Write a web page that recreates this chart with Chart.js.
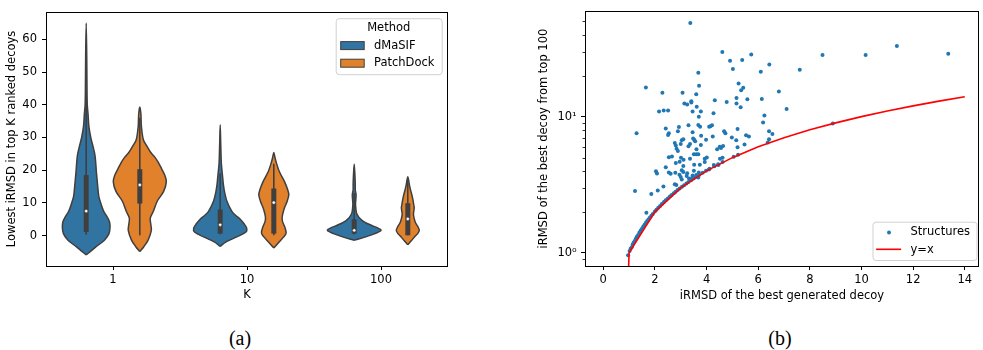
<!DOCTYPE html>
<html><head><meta charset="utf-8">
<script src="https://cdn.jsdelivr.net/npm/chart.js@4.4.1/dist/chart.umd.min.js"></script>
<style>
html,body{margin:0;padding:0;background:#fff}
body{width:983px;height:350px;position:relative;overflow:hidden}
canvas{position:absolute;top:0}
#ca{left:0}
#cb{left:500px}
.cap{position:absolute;top:326px;width:60px;text-align:center;font-family:"Liberation Serif","Times New Roman",serif;font-size:20px;color:#000;line-height:24px}
</style></head>
<body>
<canvas id="ca" width="470" height="303"></canvas>
<canvas id="cb" width="483" height="303"></canvas>
<div class="cap" style="left:210px">(a)</div>
<div class="cap" style="left:750px">(b)</div>
<script>
// ================= Panel (a): violin plot =================
const kLabels = ['1', '10', '100'];
const methods = ['dMaSIF', 'PatchDock'];
const legendTitleA = 'Method';
const yTicksA = [0, 10, 20, 30, 40, 50, 60];

// violin outlines: iRMSD levels (bottom -> top) and relative density (% of the widest violin)
const dmasifK1Y = [-5.9,-4.9,-3.4,-1.4,0.6,2.6,4.2,5.6,7.5,9.5,12,15,19.5,24.4,27.4,30,33.4,37,40,45,55,65];
const dmasifK1D = [0,15,37,68,85,89,87,79,65,56,47,43,38,33,25,17,10,7,4,3,2,0];
const patchK1Y  = [-4.9,-3.4,-1.4,1.6,3.5,5.3,7.5,10.5,13.5,16.5,18.5,20.5,22.4,24,25.4,27.4,29.4,33.4,37.3,39.3];
const patchK1D  = [0,15,31,43,41,39,51,65,89,99,93,81,69,56,41,26,13,6,4,0];
const dmasifK10Y = [-3.3,-1.9,-0.4,1.1,2.3,3.6,5.1,6.3,7.5,10.5,13,15.5,18,20.4,22.4,28,33.9];
const dmasifK10D = [0,22,62,96,99,89,74,56,43,25,17,12,9,6,4,2,0];
const patchK10Y  = [-3.8,-2.4,-0.4,0.8,2.6,4.2,5.3,6.5,8.5,10.5,12.5,14,16.5,19.5,22.4,24,25.4];
const patchK10D  = [0,15,37,46,41,33,31,33,40,50,56,52,40,21,9,4,0];
const dmasifK100Y = [-1.4,-0.4,0.6,1.6,2.3,3.1,4.6,6.6,9.5,11,12.5,14,15.5,18,21.9];
const dmasifK100D = [0,43,77,100,89,65,30,10,5,6,7,4,4,3,0];
const patchK100Y  = [-2.8,-1.6,-0.4,0.6,1.6,2.8,4.1,5.5,6.6,8.5,9.5,11,12.5,14,15.5,17,18];
const patchK100D  = [0,13,25,37,43,37,28,23,21,24,22,19,15,10,6,3,0];

// inner box statistics, one value per K (1, 10, 100)
const dmasifQ1 = [1.1, 0.6, 0.6];
const dmasifQ3 = [18.5, 8.0, 5.0];
const dmasifMedian = [7.5, 3.3, 1.6];
const dmasifWhiskerLo = [0.3, 0.4, 0.3];
const dmasifWhiskerHi = [44, 19, 13];
const patchQ1 = [9.8, 0.6, 0.1];
const patchQ3 = [20.3, 14.4, 9.9];
const patchMedian = [15.5, 10.1, 5.1];
const patchWhiskerLo = [0.1, 0.1, 0.1];
const patchWhiskerHi = [36, 22, 17];

// ================= Panel (b): scatter =================
const structX = [3.37,4.61,4.91,5.38,5.73,5.02,6.43,6.10,7.61,8.49,
 10.16,11.37,13.36,3.68,3.71,1.65,2.29,3.07,3.60,5.24,
 5.42,5.34,6.80,4.32,4.78,5.16,5.58,6.14,3.14,3.41,
 3.41,3.25,3.62,5.16,5.32,7.10,2.16,2.34,2.51,3.46,
 3.78,3.70,4.27,6.24,6.19,8.89,1.29,2.42,2.54,2.51,
 2.93,2.89,3.30,3.46,3.75,3.68,4.10,4.21,4.15,4.68,
 4.73,5.20,6.42,6.55,6.42,6.37,5.53,5.64,4.98,5.15,
 5.20,5.47,4.24,3.98,3.79,3.52,3.48,3.56,3.78,3.61,
 3.36,3.30,3.04,3.10,2.77,2.81,2.84,2.89,3.00,3.11,
 3.01,3.51,3.60,3.68,3.93,4.01,4.56,4.51,4.41,4.64,
 4.52,4.62,2.54,2.66,3.36,3.52,3.74,3.93,4.09,4.28,
 4.46,2.96,2.81,3.10,2.42,2.04,2.08,2.54,2.61,2.79,
 3.04,3.10,3.25,2.95,3.00,3.04,3.23,3.46,3.51,3.60,
 3.70,3.68,3.32,3.41,3.51,2.33,2.77,2.83,2.11,1.86,
 1.23,1.67,0.96,
 1.02,1.06,1.1,1.14,1.18,1.22,1.26,1.3,1.35,1.4,
 1.45,1.5,1.55,1.6,1.65,1.7,1.75,1.8,1.86,1.92,
 2.0,2.06,2.13,2.2,2.27,2.35,2.42,2.5,2.58,2.65,
 2.73,2.8,2.88,2.96,3.05,3.13,3.22,3.3,3.4,3.5,
 3.6,3.72,3.85,3.98,4.12,4.3,4.45,4.62,5.05,5.22];
const structY = [48.8,29.8,25.7,26.1,28.6,22.4,24.2,21.4,22.1,28.4,
 28.4,33.0,29.0,21.0,16.9,16.4,15.0,15.0,14.6,17.5,
 16.3,15.6,15.3,13.2,12.8,13.7,13.4,13.5,12.5,12.7,
 13.0,12.3,11.8,12.5,11.7,11.4,10.9,11.1,11.1,10.9,
 10.9,10.0,10.6,10.2,9.06,8.9,7.55,8.2,7.55,7.34,
 8.38,7.80,8.66,7.67,8.43,8.7,8.43,8.66,8.5,7.8,
 7.55,8.11,7.8,7.46,6.83,6.47,7.30,7.14,7.03,6.72,
 5.95,6.25,7.14,6.76,7.25,6.76,6.9,6.6,6.19,5.76,
 6.29,6.05,6.7,6.83,6.40,6.13,5.8,5.6,6.3,4.83,
 4.99,5.30,5.30,5.30,4.91,5.02,5.89,6.0,5.76,6.09,
 4.91,4.99,5.04,5.1,4.91,4.44,4.44,4.64,4.09,4.42,
 4.42,4.67,4.57,4.34,4.25,3.98,3.83,3.89,3.80,3.87,
 4.04,3.93,3.84,3.74,3.60,3.46,3.66,3.70,4.0,3.72,
 3.89,3.58,3.52,3.52,3.58,3.07,3.19,3.15,2.87,2.70,
 2.84,1.97,0.96,
 1.03,1.07,1.1,1.15,1.19,1.22,1.27,1.31,1.35,1.41,
 1.46,1.5,1.56,1.61,1.66,1.71,1.76,1.81,1.87,1.93,
 2.01,2.07,2.14,2.21,2.28,2.36,2.43,2.51,2.59,2.66,
 2.74,2.81,2.89,2.97,3.06,3.14,3.23,3.31,3.41,3.51,
 3.62,3.74,3.87,4.0,4.14,4.32,4.47,4.64,5.08,5.25];
const refX = [0,1,2,3,4,5,6,7,8,9,10,11,12,13,14];
const refY = [0,1,2,3,4,5,6,7,8,9,10,11,12,13,14];
const xTicksB = [0,2,4,6,8,10,12,14];
const yMajorB = [1, 10];
const yMinorB = [0.9,2,3,4,5,6,7,8,9,20,30,40,50];
const yMajorLabels = ['10\u2070', '10\u00b9'];
const seriesB = ['Structures', 'y=x'];

// ================= styling & construction =================
Chart.defaults.font.family = "'DejaVu Sans', sans-serif";
Chart.defaults.font.size = 11.5;
Chart.defaults.color = '#000';

const methodColors = ['#3274a1', '#e1812c'];
const GRAY = '#3f3f3f';
const HALF = 0.2;

const framePlugin = {
  id: 'frame',
  afterDraw(chart) {
    const {ctx, chartArea: a} = chart;
    ctx.save();
    ctx.strokeStyle = '#000';
    ctx.lineWidth = 1;
    ctx.strokeRect(Math.round(a.left) + 0.5, Math.round(a.top) + 0.5,
                   Math.round(a.right) - Math.round(a.left) - 1, Math.round(a.bottom) - Math.round(a.top));
    ctx.restore();
  }
};

function roundBox(ctx, x, y, w, h, r) {
  ctx.beginPath();
  ctx.moveTo(x + r, y);
  ctx.lineTo(x + w - r, y); ctx.arcTo(x + w, y, x + w, y + r, r);
  ctx.lineTo(x + w, y + h - r); ctx.arcTo(x + w, y + h, x + w - r, y + h, r);
  ctx.lineTo(x + r, y + h); ctx.arcTo(x, y + h, x, y + h - r, r);
  ctx.lineTo(x, y + r); ctx.arcTo(x, y, x + r, y, r);
  ctx.closePath();
  ctx.fillStyle = 'rgba(255,255,255,0.8)';
  ctx.fill();
  ctx.strokeStyle = '#d0d0d0';
  ctx.lineWidth = 1;
  ctx.stroke();
}

const legendAPlugin = {
  id: 'legendA',
  afterDraw(chart) {
    const {ctx, chartArea: a} = chart;
    const w = 106, h = 56;
    const x0 = a.right - 6.3 - w, y0 = a.top + 6.3;
    ctx.save();
    roundBox(ctx, x0 + 0.5, y0 + 0.5, w, h, 3);
    ctx.font = "11.5px 'DejaVu Sans'";
    ctx.fillStyle = '#000';
    ctx.textBaseline = 'middle';
    ctx.textAlign = 'center';
    ctx.fillText(legendTitleA, x0 + w / 2, y0 + 9.7);
    methods.forEach((m, i) => {
      const cy = y0 + 27.4 + i * 17.6;
      ctx.fillStyle = methodColors[i];
      ctx.fillRect(x0 + 5, cy - 4, 23.5, 8);
      ctx.strokeStyle = GRAY;
      ctx.lineWidth = 1;
      ctx.strokeRect(x0 + 5, cy - 4, 23.5, 8);
      ctx.fillStyle = '#000';
      ctx.textAlign = 'left';
      ctx.fillText(m, x0 + 38.3, cy);
    });
    ctx.restore();
  }
};

const violinSets = [
  {k: 0, m: 0, y: dmasifK1Y, d: dmasifK1D},
  {k: 0, m: 1, y: patchK1Y, d: patchK1D},
  {k: 1, m: 0, y: dmasifK10Y, d: dmasifK10D},
  {k: 1, m: 1, y: patchK10Y, d: patchK10D},
  {k: 2, m: 0, y: dmasifK100Y, d: dmasifK100D},
  {k: 2, m: 1, y: patchK100Y, d: patchK100D}
];
const boxStats = [
  {q1: dmasifQ1, q3: dmasifQ3, med: dmasifMedian, lo: dmasifWhiskerLo, hi: dmasifWhiskerHi},
  {q1: patchQ1, q3: patchQ3, med: patchMedian, lo: patchWhiskerLo, hi: patchWhiskerHi}
];
const centerOf = (k, m) => k + (m === 0 ? -HALF : HALF);

const datasetsA = [];
violinSets.forEach(v => {
  const c = centerOf(v.k, v.m);
  const right = v.y.map((y, i) => ({x: c + v.d[i] / 100 * HALF, y}));
  const left = v.y.map((y, i) => ({x: c - v.d[i] / 100 * HALF, y})).reverse().slice(1);
  datasetsA.push({type: 'line', data: right.concat(left), borderColor: GRAY, borderWidth: 1.5,
    backgroundColor: methodColors[v.m], fill: 'shape', tension: 0.3, pointRadius: 0, order: 3});
});
boxStats.forEach((s, m) => kLabels.forEach((_, k) => {
  const c = centerOf(k, m);
  datasetsA.push({type: 'line', data: [{x: c, y: s.lo[k]}, {x: c, y: s.hi[k]}], borderColor: GRAY,
    borderWidth: 1.6, pointRadius: 0, fill: false, order: 2});
  datasetsA.push({type: 'line', data: [{x: c, y: s.q1[k]}, {x: c, y: s.q3[k]}], borderColor: GRAY,
    borderWidth: 5, borderCapStyle: 'butt', pointRadius: 0, fill: false, order: 1});
  datasetsA.push({type: 'scatter', data: [{x: c, y: s.med[k]}], backgroundColor: '#fff', borderColor: GRAY,
    borderWidth: 0.4, pointRadius: 1.6, order: 0});
}));

const tickGrid = {display: true, drawOnChartArea: false, drawTicks: true, tickLength: 4, tickColor: '#000', tickWidth: 1};

new Chart(document.getElementById('ca'), {
  type: 'line',
  data: {datasets: datasetsA},
  options: {
    responsive: false, animation: false, events: [],
    layout: {padding: {top: 6, right: 22, left: 0, bottom: 0}},
    plugins: {legend: {display: false}, tooltip: {enabled: false}},
    scales: {
      x: {type: 'linear', min: -0.5, max: 2.5,
        afterFit: s => { s.height = 37; },
        afterBuildTicks: s => { s.ticks = kLabels.map((_, i) => ({value: i})); },
        ticks: {callback: v => kLabels[v] ?? '', padding: 3, autoSkip: false, maxRotation: 0},
        grid: tickGrid, border: {display: false},
        title: {display: true, text: 'K', padding: {top: 0, bottom: 1}}},
      y: {type: 'linear', min: -9.3, max: 68.4,
        afterFit: s => { s.width = 46; },
        afterBuildTicks: s => { s.ticks = yTicksA.map(v => ({value: v})); },
        ticks: {padding: 5, autoSkip: false},
        grid: tickGrid, border: {display: false},
        title: {display: true, text: 'Lowest iRMSD in top K ranked decoys', padding: {top: 5, bottom: 0}}}
    }
  },
  plugins: [framePlugin, legendAPlugin]
});

// ---------- panel (b) ----------
const minorTickPlugin = {
  id: 'minorTicks',
  afterDraw(chart) {
    const {ctx, chartArea: a} = chart;
    const ys = chart.scales.y;
    ctx.save();
    ctx.strokeStyle = '#000';
    ctx.lineWidth = 0.8;
    yMinorB.forEach(v => {
      const py = Math.round(ys.getPixelForValue(v)) + 0.5;
      if (py < a.top || py > a.bottom) return;
      ctx.beginPath();
      ctx.moveTo(a.left - 2.5, py);
      ctx.lineTo(a.left, py);
      ctx.stroke();
    });
    ctx.restore();
  }
};

const legendBPlugin = {
  id: 'legendB',
  afterDraw(chart) {
    const {ctx, chartArea: a} = chart;
    const w = 104, h = 38.3;
    const x0 = a.right - 106.5, y0 = a.bottom - 44.3;
    ctx.save();
    roundBox(ctx, x0 + 0.5, y0 + 0.5, w, h, 3);
    ctx.font = "11.5px 'DejaVu Sans'";
    ctx.textBaseline = 'middle';
    ctx.textAlign = 'left';
    // Structures
    ctx.fillStyle = '#1f77b4';
    ctx.beginPath();
    ctx.arc(x0 + 16.5, y0 + 10.8, 2, 0, Math.PI * 2);
    ctx.fill();
    ctx.fillStyle = '#000';
    ctx.fillText(seriesB[0], x0 + 38, y0 + 10.8);
    // y=x
    ctx.strokeStyle = '#ff0000';
    ctx.lineWidth = 1.6;
    ctx.beginPath();
    ctx.moveTo(x0 + 3.6, y0 + 27.6);
    ctx.lineTo(x0 + 28.6, y0 + 27.6);
    ctx.stroke();
    ctx.fillText(seriesB[1], x0 + 38, y0 + 28);
    ctx.restore();
  }
};

new Chart(document.getElementById('cb'), {
  type: 'scatter',
  data: {datasets: [
    {type: 'line', label: seriesB[1],
      data: refX.map((x, i) => ({x, y: refY[i] > 0 ? refY[i] : 1e-6})),
      borderColor: '#ff0000', borderWidth: 1.6, pointRadius: 0, fill: false, tension: 0, order: 0},
    {type: 'scatter', label: seriesB[0],
      data: structX.map((x, i) => ({x, y: structY[i]})),
      backgroundColor: '#1f77b4', borderWidth: 0, pointRadius: 2, order: 1}
  ]},
  options: {
    responsive: false, animation: false, events: [],
    layout: {padding: {top: 6, right: 1, left: 0, bottom: 0}},
    plugins: {legend: {display: false}, tooltip: {enabled: false}},
    scales: {
      x: {type: 'linear', min: -0.707, max: 14.55,
        afterFit: s => { s.height = 37; },
        afterBuildTicks: s => { s.ticks = xTicksB.map(v => ({value: v})); },
        ticks: {padding: 3, autoSkip: false, maxRotation: 0},
        grid: tickGrid, border: {display: false},
        title: {display: true, text: 'iRMSD of the best generated decoy', padding: {top: 0, bottom: 0}}},
      y: {type: 'logarithmic', min: 0.8, max: 59.5,
        afterFit: s => { s.width = 85; },
        afterBuildTicks: s => { s.ticks = yMajorB.map(v => ({value: v, major: true})); },
        ticks: {callback: v => { const i = yMajorB.indexOf(v); return i >= 0 ? yMajorLabels[i] : ''; },
                padding: 4.3, autoSkip: false},
        grid: tickGrid, border: {display: false},
        title: {display: true, text: 'iRMSD of the best decoy from top 100', padding: {top: 37, bottom: 0}}}
    }
  },
  plugins: [framePlugin, minorTickPlugin, legendBPlugin]
});
</script>
</body></html>
